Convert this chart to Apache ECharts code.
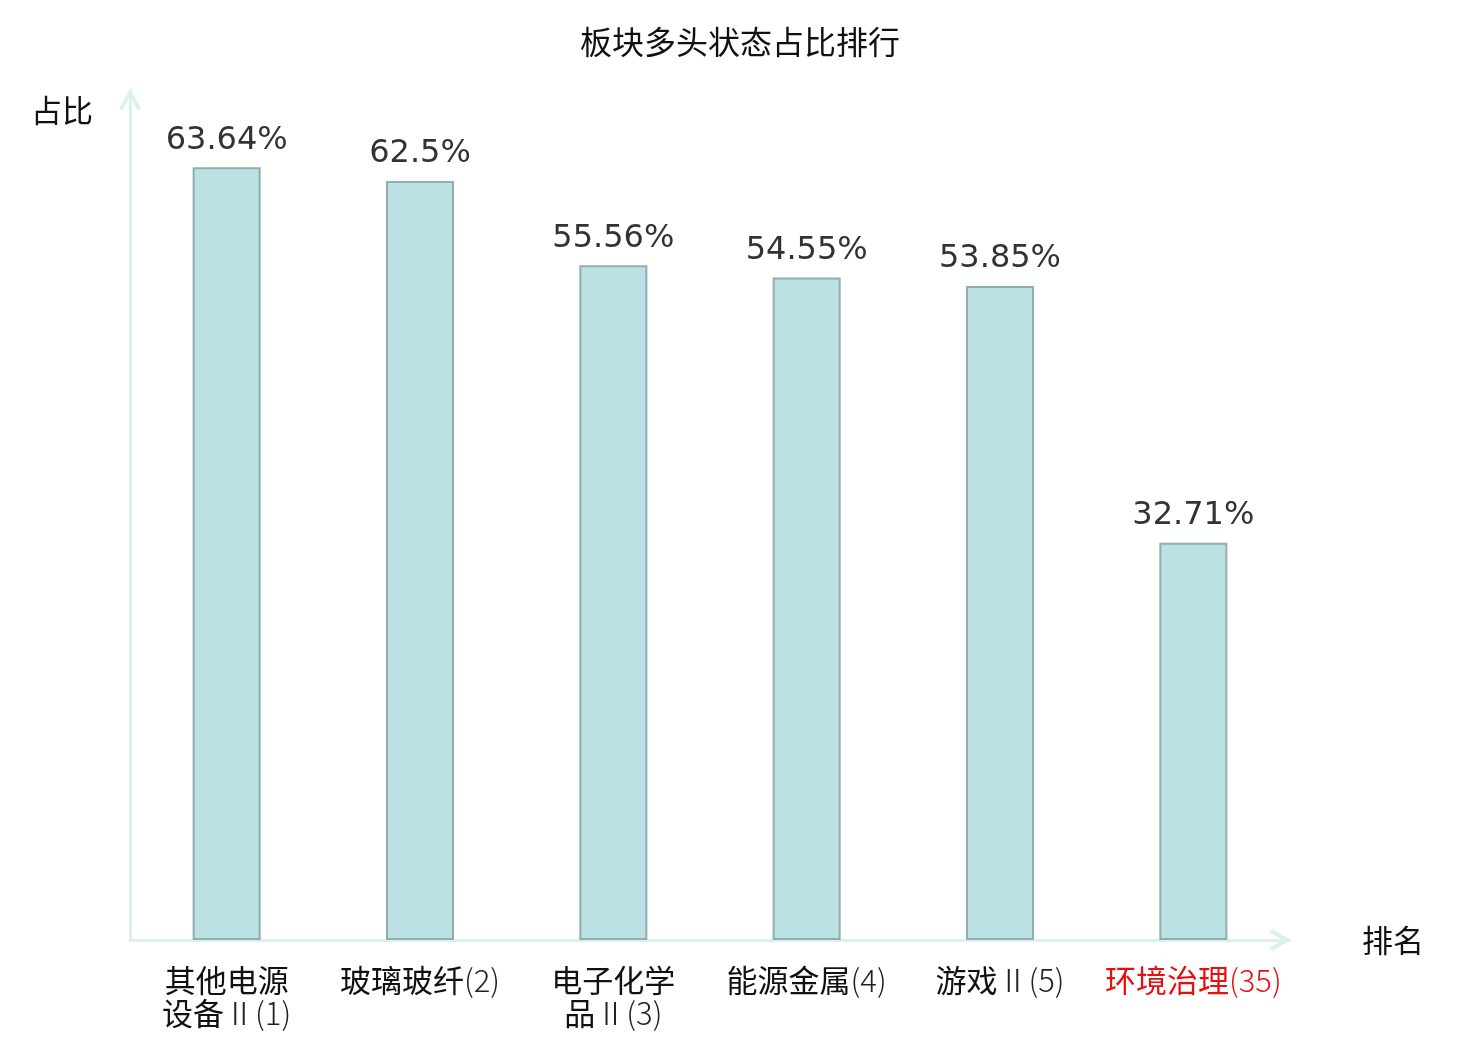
<!DOCTYPE html>
<html>
<head>
<meta charset="utf-8">
<script src="https://cdn.jsdelivr.net/npm/echarts@6/dist/echarts.min.js"></script>
<style>
  html, body { margin: 0; padding: 0; background: #fff; }
  #main { width: 1480px; height: 1040px; }
</style>
</head>
<body>
<div id="main"></div>
<script>
// 板块名称、排名、多头占比
var sectors = ['其他电源\n设备Ⅱ', '玻璃玻纤', '电子化学\n品Ⅱ', '能源金属', '游戏Ⅱ', '环境治理'];
var ranks = [1, 2, 3, 4, 5, 35];
var ratios = [63.64, 62.5, 55.56, 54.55, 53.85, 32.71];

var categories = sectors.map(function (s, i) {
    return s + '(' + ranks[i] + ')';
});

var arrow = 'path://M11,0 L22,19 L19,22 L11,8 L3,22 L0,19 Z';
var axisColor = '#dcf1ee';
var cjk = 'Noto Sans CJK SC';

// 汉字部分常规字重，"Ⅱ(n)" 部分细体
function labelFormatter(value, index) {
    var red = index === categories.length - 1 ? 'r' : '';
    return value.split('\n').map(function (line) {
        var m = line.match(/^([^Ⅱ(]*)(.*)$/);
        return (m[1] ? '{a' + red + '|' + m[1] + '}' : '') +
               (m[2] ? '{b' + red + '|' + m[2] + '}' : '');
    }).join('\n');
}

function rich(color, weight) {
    return { fontSize: 31, lineHeight: 33, color: color, fontFamily: cjk, fontWeight: weight };
}

var chart = echarts.init(document.getElementById('main'));

var option = {
    backgroundColor: '#fff',
    title: {
        text: '板块多头状态占比排行',
        left: 'center',
        top: 21,
        textStyle: {
            fontSize: 32,
            fontWeight: 'normal',
            color: '#111',
            fontFamily: cjk
        }
    },
    grid: {
        left: 130,
        right: 190,
        top: 90,
        bottom: 100
    },
    xAxis: {
        type: 'category',
        data: categories,
        name: '排名',
        nameLocation: 'end',
        nameGap: 72,
        nameTextStyle: {
            fontSize: 31,
            color: '#111',
            fontFamily: cjk
        },
        axisLine: {
            lineStyle: { color: axisColor, width: 3 },
            symbol: ['none', arrow],
            symbolSize: [22, 22],
            symbolOffset: [0, -10]
        },
        axisTick: { show: false },
        axisLabel: {
            interval: 0,
            margin: 24,
            formatter: labelFormatter,
            rich: {
                a: rich('#111', 'normal'),
                b: rich('#222', 300),
                ar: rich('#e8100e', 'normal'),
                br: rich('#e8100e', 300)
            }
        }
    },
    yAxis: {
        type: 'value',
        min: 0,
        max: 70,
        name: '占比',
        nameLocation: 'end',
        nameGap: -20,
        nameTextStyle: {
            fontSize: 31,
            color: '#111',
            fontFamily: cjk,
            align: 'right',
            verticalAlign: 'middle',
            padding: [0, 37, 0, 0]
        },
        axisLine: {
            show: true,
            lineStyle: { color: axisColor, width: 3 },
            symbol: ['none', arrow],
            symbolSize: [22, 22],
            symbolOffset: [0, -10]
        },
        axisTick: { show: false },
        axisLabel: { show: false },
        splitLine: { show: false }
    },
    series: [
        {
            type: 'bar',
            data: ratios,
            barWidth: 68,
            itemStyle: {
                color: '#bce1e4',
                borderColor: '#8fafae',
                borderWidth: 2
            },
            label: {
                show: true,
                position: 'top',
                distance: 11,
                fontSize: 32,
                color: '#333',
                fontFamily: 'DejaVu Sans',
                formatter: function (p) {
                    return p.value + '%';
                }
            }
        }
    ]
};

chart.setOption(option);
</script>
</body>
</html>
